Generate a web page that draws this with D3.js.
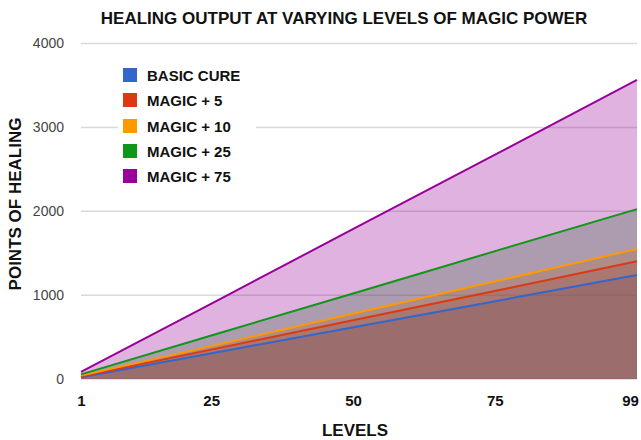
<!DOCTYPE html>
<html>
<head>
<meta charset="utf-8">
<script src="https://cdn.jsdelivr.net/npm/d3@7"></script>
<style>
  body { margin: 0; background: #fff; }
  text { font-family: "Liberation Sans", Arial, sans-serif; }
</style>
</head>
<body>
<div id="chart"></div>
<script>
// Chart data
var levels = [1, 25, 50, 75, 99];
var seriesNames = ["BASIC CURE", "MAGIC + 5", "MAGIC + 10", "MAGIC + 25", "MAGIC + 75"];
var basicCure = [20, 320, 630, 940, 1240];
var magic5 = [30, 365, 715, 1065, 1405];
var magic10 = [40, 410, 795, 1180, 1550];
var magic25 = [55, 540, 1040, 1545, 2025];
var magic75 = [85, 935, 1825, 2710, 3565];
var yTicks = [0, 1000, 2000, 3000, 4000];
var colors = ["#3366cc", "#dc3912", "#ff9900", "#109618", "#990099"];

var allSeries = [basicCure, magic5, magic10, magic25, magic75];

var svgWidth = 641;
var svgHeight = 440;
var margin = { top: 43.5, right: 4, bottom: 61, left: 81 };
var width = svgWidth - margin.left - margin.right;
var height = svgHeight - margin.top - margin.bottom;

var svg = d3.select("#chart")
  .append("svg")
  .attr("width", svgWidth)
  .attr("height", svgHeight);

var chartGroup = svg.append("g")
  .attr("transform", `translate(${margin.left}, ${margin.top})`);

var xScale = d3.scaleLinear()
  .domain([1, 99])
  .range([0, width]);

var yScale = d3.scaleLinear()
  .domain([0, 4000])
  .range([height, 0]);

// gridlines
chartGroup.selectAll(".grid")
  .data(yTicks)
  .enter()
  .append("line")
  .attr("x1", 0)
  .attr("x2", width)
  .attr("y1", d => yScale(d))
  .attr("y2", d => yScale(d))
  .attr("stroke", "#d9d9d9")
  .attr("stroke-width", 1.5);

// y axis labels
var leftAxis = d3.axisLeft(yScale).tickValues(yTicks).tickFormat(d3.format("d")).tickSize(0).tickPadding(17);
var yAxisG = chartGroup.append("g").call(leftAxis);
yAxisG.select(".domain").remove();
yAxisG.selectAll("text")
  .attr("font-size", 14)
  .attr("fill", "#444")
  .style("font-family", "Liberation Sans, Arial, sans-serif");

// x axis labels
var bottomAxis = d3.axisBottom(xScale).tickValues(levels).tickFormat(d3.format("d")).tickSize(0).tickPadding(16);
var xAxisG = chartGroup.append("g")
  .attr("transform", `translate(0, ${height})`)
  .call(bottomAxis);
xAxisG.select(".domain").remove();
xAxisG.selectAll("text")
  .attr("font-size", 15)
  .attr("font-weight", "bold")
  .attr("fill", "#111")
  .attr("dx", d => d == 99 ? -7 : (d == 1 ? 0 : -6))
  .style("font-family", "Liberation Sans, Arial, sans-serif");

var area = d3.area()
  .x((d, i) => xScale(levels[i]))
  .y0(height)
  .y1(d => yScale(d));

var line = d3.line()
  .x((d, i) => xScale(levels[i]))
  .y(d => yScale(d));

// areas, each from zero with low opacity
chartGroup.selectAll(".area")
  .data(allSeries)
  .enter()
  .append("path")
  .attr("d", area)
  .attr("fill", (d, i) => colors[i])
  .attr("fill-opacity", 0.3);

chartGroup.selectAll(".line")
  .data(allSeries)
  .enter()
  .append("path")
  .attr("d", line)
  .attr("fill", "none")
  .attr("stroke", (d, i) => colors[i])
  .attr("stroke-width", 2);

// legend
var legend = svg.append("g").attr("transform", "translate(118, 60)");
legend.append("rect")
  .attr("width", 138)
  .attr("height", 126)
  .attr("fill", "#fff");

var legendRows = [75, 100, 126, 151, 176];
seriesNames.forEach(function(name, i) {
  legend.append("rect")
    .attr("x", 5)
    .attr("y", legendRows[i] - 60 - 7)
    .attr("width", 14)
    .attr("height", 14)
    .attr("fill", colors[i]);
  legend.append("text")
    .attr("x", 29)
    .attr("y", legendRows[i] - 60 + 5.5)
    .attr("font-size", 15)
    .attr("font-weight", "bold")
    .attr("fill", "#111")
    .text(name);
});

// title
svg.append("text")
  .attr("x", 344)
  .attr("y", 24)
  .attr("text-anchor", "middle")
  .attr("font-size", 17)
  .attr("font-weight", "bold")
  .attr("fill", "#111")
  .text("HEALING OUTPUT AT VARYING LEVELS OF MAGIC POWER");

// x axis title
svg.append("text")
  .attr("x", 355)
  .attr("y", 436)
  .attr("text-anchor", "middle")
  .attr("font-size", 17)
  .attr("font-weight", "bold")
  .attr("fill", "#111")
  .text("LEVELS");

// y axis title
svg.append("text")
  .attr("transform", "translate(21, 204) rotate(-90)")
  .attr("text-anchor", "middle")
  .attr("font-size", 17)
  .attr("font-weight", "bold")
  .attr("fill", "#111")
  .text("POINTS OF HEALING");
</script>
</body>
</html>
